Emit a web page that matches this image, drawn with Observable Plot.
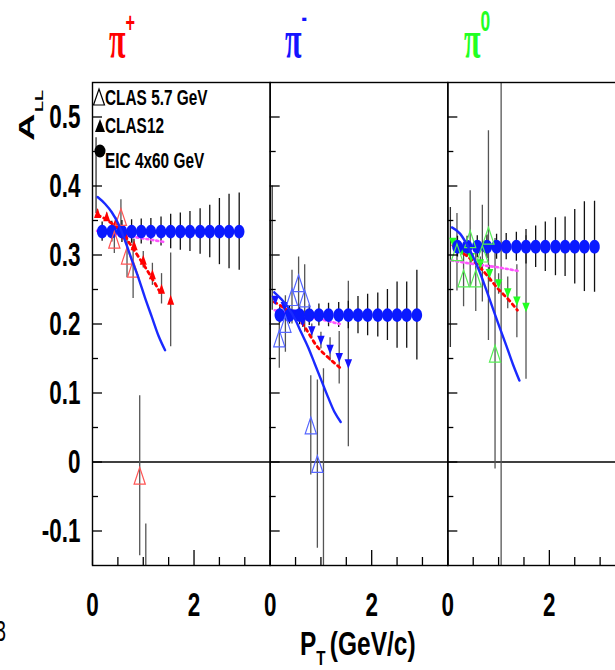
<!DOCTYPE html>
<html><head><meta charset="utf-8">
<script src="https://cdn.jsdelivr.net/npm/d3@7"></script>
<script src="https://cdn.jsdelivr.net/npm/@observablehq/plot@0.6"></script>
<style>
html,body{margin:0;padding:0;background:#fff;overflow:hidden}
#wrap{position:relative;width:615px;height:670px;overflow:hidden;background:#fff}
#chart{position:absolute;left:0;top:0;width:625px}
#overlay{position:absolute;left:0;top:0;pointer-events:none}
</style></head>
<body><div id="wrap"><div id="chart"></div><svg id="overlay" width="615" height="670"></svg></div>
<script>
// ---------- data ----------
const panels = ["π+", "π-", "π0"];

// EIC 4x60 GeV projections
const eicPt = [0.19,0.38,0.58,0.77,0.96,1.15,1.35,1.54,1.73,1.92,2.12,2.31,2.50,2.69,2.89];
const eicPiPlus  = [0.334,0.334,0.334,0.334,0.334,0.334,0.334,0.334,0.334,0.334,0.334,0.334,0.334,0.334,0.334];
const eicPiMinus = [0.213,0.213,0.213,0.213,0.213,0.213,0.213,0.213,0.213,0.213,0.213,0.213,0.213,0.213,0.213];
const eicPiZero  = [0.312,0.312,0.312,0.312,0.312,0.312,0.312,0.312,0.312,0.312,0.312,0.312,0.312,0.312,0.312];
const eicErrPiPlus  = [0.014,0.015,0.016,0.017,0.018,0.019,0.021,0.025,0.027,0.029,0.033,0.038,0.048,0.054,0.056];
const eicErrPiMinus = [0.012,0.013,0.014,0.015,0.016,0.017,0.018,0.020,0.027,0.030,0.032,0.037,0.048,0.048,0.065];
const eicErrPiZero  = [0.015,0.015,0.016,0.017,0.018,0.019,0.021,0.025,0.030,0.036,0.042,0.043,0.054,0.065,0.066];

// CLAS12 projections
const clas12Pt = [0.10,0.28,0.46,0.64,0.82,1.00,1.18,1.36,1.54];
const clas12PiPlus     = [0.361,0.356,0.348,0.330,0.314,0.293,0.272,0.251,0.235];
const clas12ErrPiPlus  = [0.005,0.005,0.006,0.007,0.009,0.012,0.016,0.022,0.068];
const clas12PiMinus    = [0.234,0.225,0.214,0.203,0.190,0.176,0.163,0.151,0.142];
const clas12ErrPiMinus = [0.005,0.005,0.006,0.008,0.010,0.012,0.017,0.038,0.120];
const clas12PiZero     = [0.318,0.306,0.296,0.287,0.273,0.258,0.245,0.233,0.224];
const clas12ErrPiZero  = [0.006,0.006,0.008,0.010,0.012,0.015,0.023,0.053,0.104];

// CLAS 5.7 GeV data
const clas57PtPiPlus   = [0.43,0.56,0.68,0.80,0.93,1.05];
const clas57PiPlus     = [0.322,0.355,0.299,0.280,-0.020,-0.300];
const clas57ErrPiPlus  = [0.020,0.025,0.032,0.043,0.116,0.210];
const clas57PtPiMinus  = [0.18,0.30,0.43,0.56,0.68,0.80,0.93,1.05];
const clas57PiMinus    = [0.179,0.200,0.239,0.259,0.237,0.053,-0.003,-0.220];
const clas57ErrPiMinus = [0.043,0.041,0.039,0.038,0.049,0.072,0.122,0.355];
const clas57PtPiZero   = [0.18,0.31,0.44,0.55,0.68,0.80,0.93,1.05];
const clas57PiZero     = [0.304,0.266,0.323,0.266,0.302,0.328,0.157,-0.300];
const clas57ErrPiZero  = [0.056,0.041,0.070,0.048,0.070,0.152,0.167,0.900];
// lowest-pT CLAS 5.7 error bars whose markers sit hidden at the frame edge
const clas57EdgePt   = [0.07,0.04,0.05];
const clas57EdgeLow  = [0.36,0.22,0.166];
const clas57EdgeHigh = [0.47,0.40,0.369];

// model curves
const solidPtPiPlus  = [0.10,0.25,0.38,0.51,0.64,0.77,0.90,1.03,1.17,1.30,1.43];
const solidPiPlus    = [0.384,0.374,0.362,0.345,0.321,0.294,0.268,0.239,0.210,0.183,0.162];
const solidPtPiMinus = [0.08,0.22,0.35,0.49,0.61,0.75,0.88,1.01,1.14,1.27,1.39];
const solidPiMinus   = [0.246,0.236,0.224,0.207,0.188,0.166,0.142,0.118,0.094,0.072,0.058];
const solidPtPiZero  = [0.08,0.24,0.37,0.50,0.63,0.76,0.89,1.02,1.15,1.28,1.41];
const solidPiZero    = [0.340,0.331,0.316,0.297,0.275,0.249,0.222,0.195,0.169,0.142,0.118];

const dashedPtPiPlus  = [0.10,0.30,0.50,0.70,0.90,1.10,1.30,1.37];
const dashedPiPlus    = [0.358,0.350,0.338,0.320,0.298,0.275,0.250,0.241];
const dashedPtPiMinus = [0.08,0.30,0.61,0.94,1.15,1.37];
const dashedPiMinus   = [0.232,0.222,0.203,0.166,0.151,0.137];
const dashedPtPiZero  = [0.10,0.35,0.60,0.80,0.99,1.20,1.37];
const dashedPiZero    = [0.314,0.300,0.285,0.268,0.251,0.235,0.220];

const dottedPtPiPlus  = [0.09,0.50,1.00,1.40];
const dottedPiPlus    = [0.335,0.330,0.324,0.319];
const dottedPtPiMinus = [0.09,0.50,1.00,1.37];
const dottedPiMinus   = [0.220,0.214,0.207,0.200];
const dottedPtPiZero  = [0.07,0.50,1.00,1.38];
const dottedPiZero    = [0.292,0.287,0.282,0.277];

// axis ticks
const yLabelTicks = [-0.1,0,0.1,0.2,0.3,0.4,0.5];
const yMinorTicks = [-0.05,0.05,0.15,0.25,0.35,0.45];
const xLabelTicks = [0,2];
const xMajorTicks = [0,2];
const xMinorTicks = [0.5,1,1.5,2.5,3];

// ---------- tables ----------
const rows = (xs, ys, es) => panels.flatMap((p, k) => xs[k].map((x, i) => ({panel: p, x, y: ys[k][i], e: es ? es[k][i] : 0})));
const eicRows = rows([eicPt,eicPt,eicPt], [eicPiPlus,eicPiMinus,eicPiZero], [eicErrPiPlus,eicErrPiMinus,eicErrPiZero]);
const clas12Rows = rows([clas12Pt,clas12Pt,clas12Pt], [clas12PiPlus,clas12PiMinus,clas12PiZero], [clas12ErrPiPlus,clas12ErrPiMinus,clas12ErrPiZero]);
const clas57Rows = rows([clas57PtPiPlus,clas57PtPiMinus,clas57PtPiZero], [clas57PiPlus,clas57PiMinus,clas57PiZero], [clas57ErrPiPlus,clas57ErrPiMinus,clas57ErrPiZero]);
const edgeRows = panels.map((p, k) => ({panel: p, x: clas57EdgePt[k], lo: clas57EdgeLow[k], hi: clas57EdgeHigh[k]}));
const solidRows = rows([solidPtPiPlus,solidPtPiMinus,solidPtPiZero], [solidPiPlus,solidPiMinus,solidPiZero]);
const dashedRows = rows([dashedPtPiPlus,dashedPtPiMinus,dashedPtPiZero], [dashedPiPlus,dashedPiMinus,dashedPiZero]);
const dottedRows = rows([dottedPtPiPlus,dottedPtPiMinus,dottedPtPiZero], [dottedPiPlus,dottedPiMinus,dottedPiZero]);

// ---------- styles ----------
const fillColor = {"π+": "#ff0000", "π-": "#1414ff", "π0": "#22ff22"};
const openColor = {"π+": "#ff5555", "π-": "#5566ff", "π0": "#55ee55"};

const ellipse = {draw(c, size) {
  const r = Math.sqrt(size / Math.PI), rx = r * 0.76, ry = r, k = 0.5523;
  c.moveTo(rx, 0);
  c.bezierCurveTo(rx, ry * k, rx * k, ry, 0, ry);
  c.bezierCurveTo(-rx * k, ry, -rx, ry * k, -rx, 0);
  c.bezierCurveTo(-rx, -ry * k, -rx * k, -ry, 0, -ry);
  c.bezierCurveTo(rx * k, -ry, rx, -ry * k, rx, 0);
  c.closePath();
}};
const tri = (dir, wf, hf) => ({draw(c, size) {
  const r = Math.sqrt(size / Math.PI), w = r * wf, h = r * hf;
  c.moveTo(0, -dir * h); c.lineTo(w, dir * h); c.lineTo(-w, dir * h); c.closePath();
}});
const triOpen = tri(1, 0.8, 1.2);
const triUp = tri(1, 0.7, 1.0);
const triDown = tri(-1, 0.75, 0.95);

const plot = Plot.plot({
  width: 625, height: 670,
  marginLeft: 92, marginRight: 0, marginTop: 82, marginBottom: 105,
  style: {fontFamily: "'Liberation Sans', Arial, sans-serif", background: "#fff", color: "#000"},
  fx: {domain: panels, padding: 0, axis: null, round: false},
  x: {domain: [0, 3.5]},
  y: {domain: [-0.15, 0.55]},
  marks: [
    Plot.ruleY([0], {stroke: "#000", strokeWidth: 1.3}),
    Plot.ruleX(edgeRows, {fx: "panel", x: "x", y1: "lo", y2: "hi", stroke: "#333", strokeWidth: 1.3, clip: true}),
    Plot.ruleX(clas57Rows, {fx: "panel", x: "x", y1: d => d.y - d.e, y2: d => d.y + d.e, stroke: "#555", strokeWidth: 1.3, clip: true}),
    Plot.ruleX(clas12Rows, {fx: "panel", x: "x", y1: d => d.y - d.e, y2: d => d.y + d.e, stroke: "#555", strokeWidth: 1.3, clip: true}),
    Plot.ruleX(eicRows, {fx: "panel", x: "x", y1: d => d.y - d.e, y2: d => d.y + d.e, stroke: "#111", strokeWidth: 1.3, clip: true}),
    Plot.line(dottedRows, {fx: "panel", x: "x", y: "y", stroke: "#ff55ff", strokeWidth: 2.6, strokeDasharray: "2,3"}),
    Plot.line(dashedRows, {fx: "panel", x: "x", y: "y", stroke: "#ff0000", strokeWidth: 2.8, strokeDasharray: "3,4", curve: "monotone-x"}),
    Plot.dot(clas12Rows.filter(d => d.panel === "π+"), {fx: "panel", x: "x", y: "y", symbol: triUp, r: 5, fill: d => fillColor[d.panel], stroke: "none"}),
    Plot.dot(clas12Rows.filter(d => d.panel !== "π+"), {fx: "panel", x: "x", y: "y", symbol: triDown, r: 5, fill: d => fillColor[d.panel], stroke: "none"}),
    Plot.dot(eicRows, {fx: "panel", x: "x", y: "y", symbol: ellipse, r: 6.9, fill: "#0a1aff", stroke: "none"}),
    Plot.dot(clas57Rows, {fx: "panel", x: "x", y: "y", symbol: triOpen, r: 7, fill: "none", stroke: d => openColor[d.panel], strokeWidth: 1.2, clip: true}),
    Plot.line(solidRows, {fx: "panel", x: "x", y: "y", stroke: "#1a2aff", strokeWidth: 2.4, curve: "monotone-x"}),
    Plot.frame({stroke: "#000", strokeWidth: 1.4}),
    Plot.axisY({ticks: yLabelTicks, tickSize: 0, tickPadding: 12, fontSize: 34, fontWeight: "bold", tickFormat: d => String(d), label: null}),
    Plot.axisY({ticks: yLabelTicks, tickSize: -10, fill: "none", label: null, facetAnchor: null, strokeWidth: 1.3}),
    Plot.axisY({ticks: yMinorTicks, tickSize: -6, fill: "none", label: null, facetAnchor: null, strokeWidth: 1.3}),
    Plot.axisX({ticks: xLabelTicks, tickSize: 0, tickPadding: 26, fontSize: 34, fontWeight: "bold", tickFormat: d => String(d), label: null}),
    Plot.axisX({ticks: xMajorTicks, tickSize: -15, fill: "none", label: null, strokeWidth: 1.3}),
    Plot.axisX({ticks: xMinorTicks, tickSize: -8, fill: "none", label: null, strokeWidth: 1.3})
  ]
});
document.getElementById("chart").append(plot);
// the original figure is horizontally compressed: squeeze the axis texts
plot.querySelectorAll("text").forEach(t => {
  const w = t.getComputedTextLength();
  if (w > 0) { t.setAttribute("textLength", (w * 0.66).toFixed(2)); t.setAttribute("lengthAdjust", "spacingAndGlyphs"); }
});

// ---------- overlay: titles, axis labels, legend ----------
const ov = d3.select("#overlay");
const sans = "'Liberation Sans', Arial, sans-serif";
const titleSpec = [
  {panel: "π+", x: 109, supDy: -25, supSize: 28},
  {panel: "π-", x: 285, supDy: -30, supSize: 28},
  {panel: "π0", x: 464, supDy: -26, supSize: 30}
];
titleSpec.forEach(s => {
  const t = ov.append("text").attr("transform", `translate(${s.x},57) scale(0.58,1)`)
    .attr("font-family", "'Liberation Serif', 'DejaVu Serif', serif").attr("font-size", 52)
    .attr("font-weight", "bold").attr("fill", fillColor[s.panel]);
  t.append("tspan").text("π");
  t.append("tspan").attr("font-family", sans).attr("font-weight", "bold").attr("font-size", s.supSize)
    .attr("dy", s.supDy).text(s.panel.slice(1));
});
// y label A_LL
ov.append("text").attr("transform", "translate(34,141) rotate(-90) scale(1,0.6)")
  .attr("font-family", sans).attr("font-weight", "bold").attr("font-size", 38).text("A");
ov.append("text").attr("transform", "translate(43,112) rotate(-90) scale(1,0.62)")
  .attr("font-family", sans).attr("font-weight", "bold").attr("font-size", 18).text("LL");
// x label
const xl = ov.append("text").attr("transform", "translate(300,655) scale(0.72,1)")
  .attr("font-family", sans).attr("font-weight", "bold").attr("font-size", 34);
xl.append("tspan").text("P");
xl.append("tspan").attr("font-size", 21).attr("dy", 10).text("T");
xl.append("tspan").attr("dy", -10).attr("dx", 6).text("(GeV/c)");
// cut-off page character at the left edge (as in the source figure)
ov.append("text").attr("transform", "translate(6,641) scale(0.66,1)").attr("text-anchor", "end")
  .attr("font-family", sans).attr("font-size", 30).text("3");
// legend
const legendRows = [
  {label: "CLAS 5.7 GeV", sym: "open", sy: 97, ty: 105},
  {label: "CLAS12", sym: "up", sy: 126, ty: 133},
  {label: "EIC 4x60 GeV", sym: "dot", sy: 151, ty: 168}
];
legendRows.forEach(r => {
  if (r.sym === "open") ov.append("path").attr("d", `M99,${r.sy-8}L104.5,${r.sy+8}L93.5,${r.sy+8}Z`).attr("fill", "none").attr("stroke", "#000").attr("stroke-width", 1.2);
  if (r.sym === "up") ov.append("path").attr("d", `M100,${r.sy-7}L105,${r.sy+6}L95,${r.sy+6}Z`).attr("fill", "#000");
  if (r.sym === "dot") ov.append("ellipse").attr("cx", 100).attr("cy", r.sy).attr("rx", 5.5).attr("ry", 6.5).attr("fill", "#000");
  ov.append("text").attr("transform", `translate(105,${r.ty}) scale(0.7,1)`)
    .attr("font-family", sans).attr("font-weight", "bold").attr("font-size", 22).text(r.label);
});
</script></body></html>
